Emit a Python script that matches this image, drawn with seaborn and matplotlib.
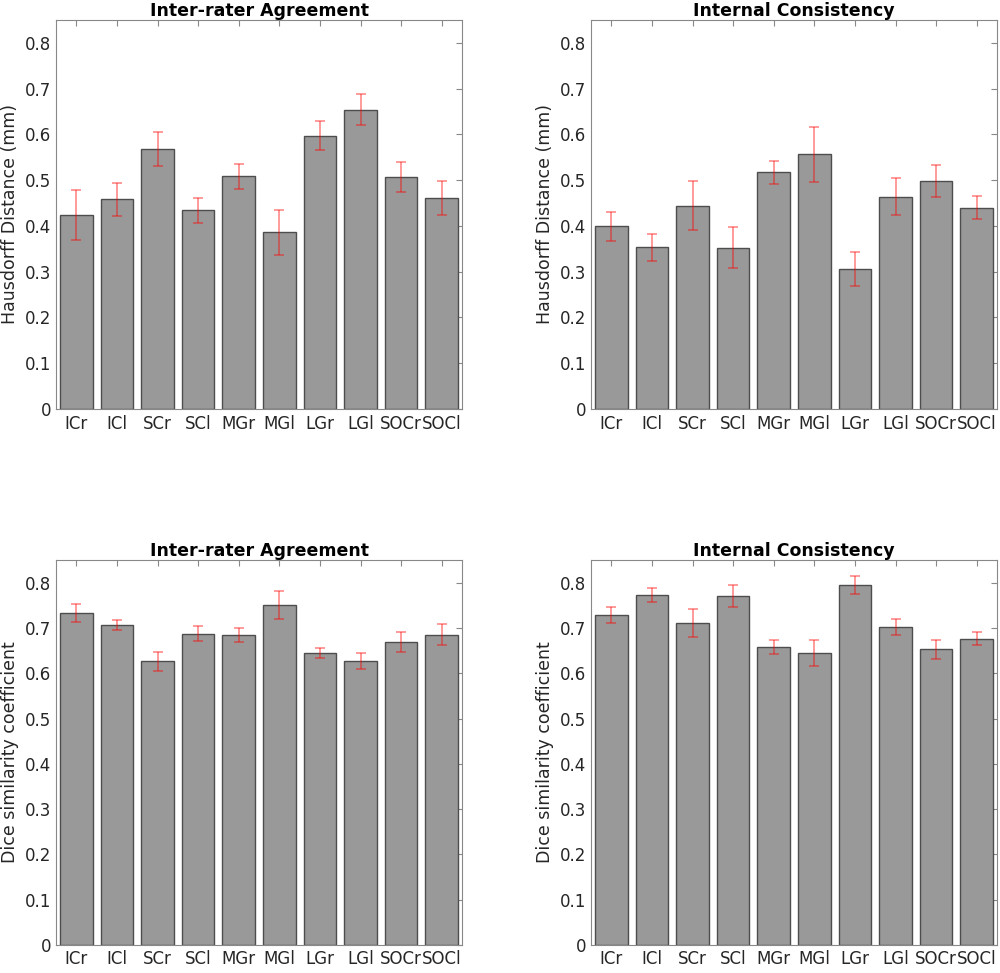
import numpy as np
import pandas as pd
import matplotlib
matplotlib.use("Agg")
import matplotlib.pyplot as plt
import seaborn as sns

STRUCTS = ["ICr", "ICl", "SCr", "SCl", "MGr", "MGl", "LGr", "LGl", "SOCr", "SOCl"]

# Hausdorff distance (mm)
hd_inter = [0.424, 0.458, 0.568, 0.434, 0.508, 0.386, 0.597, 0.654, 0.506, 0.461]
hd_inter_err = [0.054, 0.036, 0.037, 0.027, 0.027, 0.049, 0.032, 0.034, 0.033, 0.037]
hd_intra = [0.399, 0.353, 0.444, 0.352, 0.517, 0.556, 0.306, 0.464, 0.498, 0.440]
hd_intra_err = [0.032, 0.030, 0.053, 0.045, 0.025, 0.060, 0.038, 0.040, 0.034, 0.025]

# Dice similarity coefficient
dsc_inter = [0.734, 0.707, 0.627, 0.688, 0.685, 0.752, 0.645, 0.628, 0.670, 0.686]
dsc_inter_err = [0.020, 0.011, 0.021, 0.017, 0.016, 0.031, 0.011, 0.017, 0.022, 0.024]
dsc_intra = [0.729, 0.773, 0.712, 0.772, 0.659, 0.646, 0.796, 0.703, 0.654, 0.677]
dsc_intra_err = [0.017, 0.016, 0.031, 0.024, 0.015, 0.029, 0.020, 0.018, 0.021, 0.015]

sns.set_style("white")
plt.rcParams["font.family"] = ["DejaVu Sans"]

fig = plt.figure(figsize=(10, 9.73), dpi=100)
panels = [
    ([0.056, 0.5797, 0.406, 0.3998], hd_inter, hd_inter_err, "Inter-rater Agreement", "Hausdorff Distance (mm)"),
    ([0.591, 0.5797, 0.406, 0.3998], hd_intra, hd_intra_err, "Internal Consistency", "Hausdorff Distance (mm)"),
    ([0.056, 0.029, 0.406, 0.395], dsc_inter, dsc_inter_err, "Inter-rater Agreement", "Dice similarity coefficient"),
    ([0.591, 0.029, 0.406, 0.395], dsc_intra, dsc_intra_err, "Internal Consistency", "Dice similarity coefficient"),
]

for rect, vals, errs, title, ylab in panels:
    ax = fig.add_axes(rect)
    df = pd.DataFrame({"s": STRUCTS, "v": vals})
    sns.barplot(data=df, x="s", y="v", color="#999999", saturation=1, width=0.8,
                edgecolor="#4d4d4d", linewidth=1.0, errorbar=None, ax=ax)
    ax.errorbar(np.arange(len(STRUCTS)), vals, yerr=errs, fmt="none",
                ecolor=(1, 0, 0, 0.5), elinewidth=1.1, capsize=3.5, capthick=1.1, zorder=5)
    ax.set_xlim(-0.5, len(STRUCTS) - 0.5)
    ax.set_ylim(0, 0.85)
    ax.set_yticks(np.arange(0, 0.81, 0.1))
    ax.set_yticklabels(["0"] + [f"{t:.1f}" for t in np.arange(0.1, 0.81, 0.1)])
    ax.set_xlabel("")
    ax.set_ylabel(ylab, fontsize=12.5, color="#262626")
    ax.set_title(title, fontsize=12.5, fontweight="bold", pad=3, color="black")
    ax.tick_params(direction="in", top=True, right=True, length=4, width=0.8,
                   color="#888888", labelsize=12, labelcolor="#262626")
    ax.tick_params(axis="x", pad=4)
    for sp in ax.spines.values():
        sp.set_color("#888888")
        sp.set_linewidth(0.8)

fig.savefig("out.png", dpi=100)
